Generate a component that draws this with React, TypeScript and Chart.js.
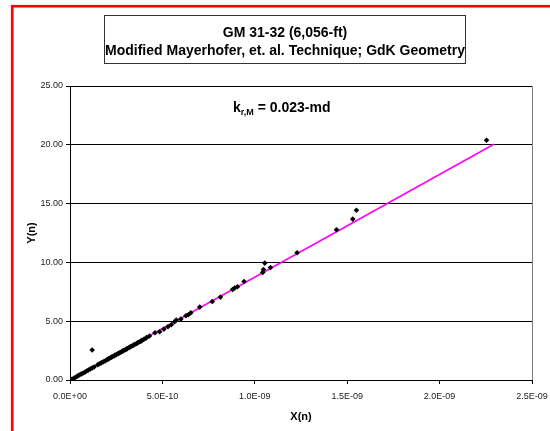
import React, { useEffect, useRef } from "react";
import { Chart, registerables } from "chart.js";

Chart.register(...registerables);

// Measured points: X(n) and Y(n)
const xValues = [
  0.1e-10, 0.2e-10, 0.3e-10, 0.4e-10, 0.5e-10, 0.6e-10, 0.7e-10, 0.8e-10, 0.9e-10, 1.0e-10,
  1.1e-10, 1.2e-10, 1.3e-10, 1.2e-10, 1.5e-10, 1.6e-10, 1.7e-10, 1.8e-10, 1.9e-10, 2.0e-10,
  2.05e-10, 2.1e-10, 2.2e-10, 2.25e-10, 2.3e-10, 2.4e-10, 2.45e-10, 2.5e-10, 2.6e-10, 2.65e-10,
  2.7e-10, 2.8e-10, 2.85e-10, 2.9e-10, 3.0e-10, 3.05e-10, 3.1e-10, 3.2e-10, 3.25e-10, 3.3e-10,
  3.4e-10, 3.45e-10, 3.5e-10, 3.6e-10, 3.65e-10, 3.7e-10, 3.8e-10, 3.85e-10, 3.9e-10, 4.0e-10,
  4.1e-10, 4.15e-10, 4.3e-10, 4.6e-10, 4.85e-10, 5.08e-10, 5.3e-10, 5.48e-10, 5.66e-10, 5.75e-10,
  6.0e-10, 6.27e-10, 6.4e-10, 6.54e-10, 7.02e-10, 7.7e-10, 8.14e-10, 8.8e-10, 8.91e-10, 9.06e-10,
  9.42e-10, 10.43e-10, 10.47e-10, 10.54e-10, 10.85e-10, 12.29e-10, 14.42e-10, 15.3e-10, 15.5e-10,
  22.54e-10,
];
const yValues = [
  0.05, 0.14, 0.24, 0.33, 0.42, 0.5, 0.58, 0.66, 0.76, 0.85,
  0.93, 1.02, 1.1, 2.55, 1.3, 1.38, 1.46, 1.55, 1.62, 1.72,
  1.77, 1.82, 1.9, 1.95, 1.98, 2.07, 2.12, 2.15, 2.24, 2.29,
  2.32, 2.41, 2.46, 2.5, 2.58, 2.63, 2.67, 2.76, 2.81, 2.85,
  2.93, 2.98, 3.02, 3.1, 3.15, 3.19, 3.28, 3.33, 3.37, 3.46,
  3.55, 3.62, 3.74, 4.02, 4.1, 4.33, 4.53, 4.7, 4.95, 5.1,
  5.18, 5.46, 5.55, 5.72, 6.2, 6.68, 7.05, 7.7, 7.82, 7.93,
  8.38, 9.15, 9.4, 9.94, 9.57, 10.82, 12.77, 13.68, 14.44,
  20.39,
];

// Linear trend line through the origin
const trendX = [0, 2.294e-9];
const trendY = [0, 20.05];

const xTicks = [0, 5e-10, 1e-9, 1.5e-9, 2e-9, 2.5e-9];
const yTicks = [0, 5, 10, 15, 20, 25];

const titleLines = ["GM 31-32 (6,056-ft)", "Modified Mayerhofer, et. al. Technique; GdK Geometry"];
const xTitle = "X(n)";
const yTitle = "Y(n)";
const noteMain = "k";
const noteSub = "r,M";
const noteRest = " = 0.023-md";

const FONT = '"Liberation Sans", Arial, sans-serif';

function sci(v: number): string {
  if (v === 0) return "0.0E+00";
  let e = Math.floor(Math.log10(Math.abs(v)) + 1e-9);
  let m = v / Math.pow(10, e);
  let ms = m.toFixed(1);
  if (ms === "10.0") {
    e += 1;
    ms = "1.0";
  }
  const sign = e < 0 ? "-" : "+";
  const ex = String(Math.abs(e)).padStart(2, "0");
  return `${ms}E${sign}${ex}`;
}

const decorPlugin = {
  id: "decor",
  beforeDraw(chart: any) {
    const ctx = chart.ctx;
    ctx.save();
    ctx.fillStyle = "#ffffff";
    ctx.fillRect(0, 0, chart.width, chart.height);
    ctx.restore();
  },
  afterDraw(chart: any) {
    const ctx = chart.ctx;
    const area = chart.chartArea;
    ctx.save();

    // outer red frame
    ctx.strokeStyle = "#ff0000";
    ctx.lineWidth = 2.6;
    ctx.strokeRect(12.3, 6.2, 700, 600);

    // right edge of the plot area
    ctx.strokeStyle = "#808080";
    ctx.lineWidth = 1;
    ctx.beginPath();
    ctx.moveTo(area.right + 0.5, area.top);
    ctx.lineTo(area.right + 0.5, area.bottom);
    ctx.stroke();

    // title box
    ctx.strokeStyle = "#333333";
    ctx.lineWidth = 1;
    ctx.fillStyle = "#ffffff";
    ctx.fillRect(104.5, 15.5, 361, 48);
    ctx.strokeRect(104.5, 15.5, 361, 48);
    ctx.fillStyle = "#000000";
    ctx.font = `bold 14px ${FONT}`;
    ctx.textAlign = "center";
    ctx.textBaseline = "middle";
    ctx.fillText(titleLines[0], 285, 33);
    ctx.fillText(titleLines[1], 285, 51);

    // k annotation
    ctx.textAlign = "left";
    ctx.textBaseline = "alphabetic";
    let x = 233;
    const base = 112;
    ctx.font = `bold 14px ${FONT}`;
    ctx.fillText(noteMain, x, base);
    x += ctx.measureText(noteMain).width;
    ctx.font = `bold 9px ${FONT}`;
    ctx.fillText(noteSub, x, base + 3);
    x += ctx.measureText(noteSub).width;
    ctx.font = `bold 14px ${FONT}`;
    ctx.fillText(noteRest, x, base);

    // axis titles
    ctx.font = `bold 11px ${FONT}`;
    ctx.textAlign = "center";
    ctx.textBaseline = "middle";
    ctx.fillText(xTitle, 301, 417);
    ctx.translate(32, 233);
    ctx.rotate(-Math.PI / 2);
    ctx.fillText(yTitle, 0, 0);

    ctx.restore();
  },
};

export default function App() {
  const canvasRef = useRef<HTMLCanvasElement | null>(null);

  useEffect(() => {
    const canvas = canvasRef.current;
    if (!canvas) return;
    const points = xValues.map((x, i) => ({ x, y: yValues[i] }));
    const trend = trendX.map((x, i) => ({ x, y: trendY[i] }));

    const chart = new Chart(canvas, {
      type: "scatter",
      data: {
        datasets: [
          {
            label: "Y(n)",
            data: points,
            pointStyle: "rectRot",
            pointRadius: 2.8,
            pointBackgroundColor: "#000000",
            pointBorderWidth: 0,
            showLine: false,
          },
          {
            label: "trend",
            data: trend,
            showLine: true,
            borderColor: "#ff00ff",
            borderWidth: 1.6,
            pointRadius: 0,
          },
        ],
      },
      options: {
        responsive: false,
        animation: false,
        layout: { padding: { left: 0, top: 86, right: 18, bottom: 0 } },
        plugins: {
          legend: { display: false },
          title: { display: false },
          tooltip: { enabled: false },
        },
        scales: {
          x: {
            type: "linear",
            min: 0,
            max: 2.5e-9,
            afterBuildTicks: (scale: any) => {
              scale.ticks = xTicks.map((v) => ({ value: v }));
            },
            afterFit: (scale: any) => {
              scale.height = 51;
              scale.paddingLeft = 0;
              scale.paddingRight = 0;
            },
            grid: {
              drawOnChartArea: false,
              drawTicks: true,
              tickLength: 4,
              color: "#000000",
            },
            border: { display: true, color: "#000000", width: 1 },
            ticks: {
              autoSkip: false,
              maxRotation: 0,
              padding: 7,
              color: "#222222",
              font: { family: FONT, size: 9 },
              callback: (v: any) => sci(Number(v)),
            },
          },
          y: {
            type: "linear",
            min: 0,
            max: 25,
            afterBuildTicks: (scale: any) => {
              scale.ticks = yTicks.map((v) => ({ value: v }));
            },
            afterFit: (scale: any) => {
              scale.width = 70;
              scale.paddingTop = 0;
              scale.paddingBottom = 0;
            },
            grid: {
              drawOnChartArea: true,
              drawTicks: true,
              tickLength: 4,
              color: "#000000",
              lineWidth: 1,
            },
            border: { display: true, color: "#000000", width: 1 },
            ticks: {
              autoSkip: false,
              padding: 3,
              color: "#222222",
              font: { family: FONT, size: 9 },
              callback: (v: any) => Number(v).toFixed(2),
            },
          },
        },
      },
      plugins: [decorPlugin],
    });

    return () => chart.destroy();
  }, []);

  return (
    <div style={{ position: "absolute", left: 0, top: 0, width: 550, height: 431 }}>
      <canvas ref={canvasRef} width={550} height={431} />
    </div>
  );
}
